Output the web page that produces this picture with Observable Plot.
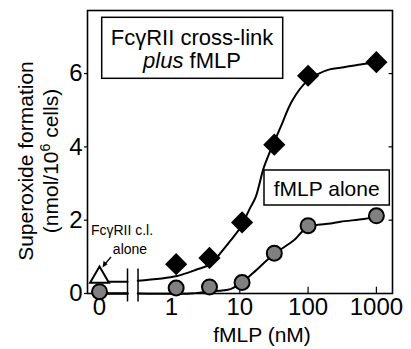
<!DOCTYPE html>
<html>
<head>
<meta charset="utf-8">
<script src="https://cdn.jsdelivr.net/npm/d3@7"></script>
<script src="https://cdn.jsdelivr.net/npm/@observablehq/plot@0.6"></script>
<style>
  body { margin: 0; background: #fff; }
  svg { font-family: "Liberation Sans", Arial, sans-serif; }
</style>
</head>
<body>
<script>
// ---- data (fMLP concentration in nM, superoxide in nmol/10^6 cells) ----
const plusX  = [1.17, 3.6, 10.8, 32, 100, 1000];
const plusY  = [0.80, 0.97, 1.94, 4.06, 5.94, 6.31];
const aloneX = [0, 1.17, 3.6, 10.8, 32, 100, 1000];
const aloneY = [0.05, 0.15, 0.18, 0.30, 1.10, 1.85, 2.12];
const clX = [0];
const clY = [0.44];
// fitted curves
const fitPlusX  = [0.32, 1.21, 2.38, 3.72, 5.2, 7.3, 10.2, 14.3, 17, 22.5, 28, 39.4, 58.5, 97, 136, 213, 298, 585, 1000];
const fitPlusY  = [0.35, 0.48, 0.66, 0.80, 1.10, 1.44, 1.80, 2.35, 2.62, 3.44, 3.89, 4.53, 5.26, 5.80, 5.98, 6.12, 6.16, 6.25, 6.31];
const fitAloneX = [0.32, 1.9, 3.3, 7.3, 10.2, 15.9, 31.5, 62, 97, 213, 298, 654, 1000];
const fitAloneY = [0, 0, 0.05, 0.12, 0.27, 0.57, 1.07, 1.45, 1.80, 1.91, 1.96, 2.03, 2.09];
const plusStubY = 0.32;   // fit level at 0 nM (left of axis break)
const aloneStubY = 0;
const xTickValues = [0, 1, 10, 100, 1000];
const xTickLabels = ["0", "1", "10", "100", "1000"];
const yTickValues = [0, 2, 4, 6];

// ---- axis transform: log10 with a broken-off zero position ----
const ZERO_POS = -1.054, BREAK_L = -0.644, BREAK_R = -0.49;
const u = v => v === 0 ? ZERO_POS : Math.log10(v);
const pts = (xs, ys) => xs.map((x, i) => ({x: u(x), y: ys[i]}));

const plusPts = pts(plusX, plusY);
const alonePts = pts(aloneX, aloneY);
const clPts = pts(clX, clY);
const fitPlus = pts(fitPlusX, fitPlusY);
const fitAlone = pts(fitAloneX, fitAloneY);
const stubPlus = [{x: ZERO_POS, y: plusStubY}, {x: BREAK_L, y: plusStubY}];
const stubAlone = [{x: ZERO_POS, y: aloneStubY}, {x: BREAK_L, y: aloneStubY}];
const tickMap = new Map(xTickValues.map((v, i) => [u(v), xTickLabels[i]]));
const xMax = 3.236;

const chart = Plot.plot({
  width: 411,
  height: 349,
  marginLeft: 87,
  marginRight: 19,
  marginTop: 10,
  marginBottom: 56,
  style: {fontFamily: '"Liberation Sans", Arial, sans-serif', background: "white", color: "black"},
  x: {type: "linear", domain: [-1.23, xMax]},
  y: {domain: [0, 7.72]},
  marks: [
    Plot.axisY({ticks: yTickValues, tickSize: 3, tickPadding: 2, fontSize: 24, label: null, strokeWidth: 1.2}),
    Plot.axisX({ticks: [...tickMap.keys()], tickFormat: d => tickMap.get(d), tickSize: 0, tickPadding: 4, fontSize: 24, label: null}),
    Plot.ruleX(xTickValues.slice(1).map(u), {y1: 0, y2: 0.17, stroke: "black", strokeWidth: 1.2}),
    Plot.ruleY(yTickValues.slice(1), {x1: xMax - 0.05, x2: xMax, stroke: "black", strokeWidth: 1.2}),
    Plot.frame({stroke: "black", strokeWidth: 1.6}),
    // axis break
    Plot.rect([{x1: BREAK_L, x2: BREAK_R, y1: -0.08, y2: 0.08}], {x1: "x1", x2: "x2", y1: "y1", y2: "y2", fill: "white"}),
    Plot.ruleX([BREAK_L, BREAK_R], {y1: -0.23, y2: 0.67, stroke: "black", strokeWidth: 1.5}),
    // curves
    Plot.line(stubPlus, {x: "x", y: "y", stroke: "black", strokeWidth: 2}),
    Plot.line(stubAlone, {x: "x", y: "y", stroke: "black", strokeWidth: 2.5}),
    Plot.line(fitPlus, {x: "x", y: "y", curve: "catmull-rom", stroke: "black", strokeWidth: 2}),
    Plot.line(fitAlone, {x: "x", y: "y", curve: "catmull-rom", stroke: "black", strokeWidth: 2}),
    // points
    Plot.dot(alonePts, {x: "x", y: "y", r: 7.5, fill: "#808080", stroke: "black", strokeWidth: 2}),
    Plot.dot(plusPts, {x: "x", y: "y", symbol: "diamond2", r: 10, fill: "black", stroke: "none"}),
    Plot.dot(clPts, {x: "x", y: "y", symbol: "triangle", r: 7, fill: "white", stroke: "black", strokeWidth: 2})
  ]
});
document.body.appendChild(chart);

// ---- annotations ----
const svg = d3.select(chart);
const ff = '"Liberation Sans", Arial, sans-serif';

// y-axis title (two lines, rotated)
const yt = svg.append("g").attr("transform", "translate(33,161) rotate(-90)")
  .attr("font-family", ff).attr("font-size", 21).attr("text-anchor", "middle").attr("fill", "black");
yt.append("text").text("Superoxide formation");
const l2 = yt.append("text").attr("y", 25);
l2.append("tspan").text("(nmol/10");
l2.append("tspan").attr("dy", -8).attr("font-size", 14).text("6");
l2.append("tspan").attr("dy", 8).text(" cells)");

// x-axis title
svg.append("text").attr("x", 262).attr("y", 342).attr("text-anchor", "middle")
  .attr("font-family", ff).attr("font-size", 21).attr("fill", "black").text("fMLP (nM)");

// legend box 1
svg.append("rect").attr("x", 101.7).attr("y", 17.3).attr("width", 181).attr("height", 61)
  .attr("fill", "white").attr("stroke", "black").attr("stroke-width", 1.5);
svg.append("text").attr("x", 192).attr("y", 45).attr("text-anchor", "middle")
  .attr("font-family", ff).attr("font-size", 22).attr("fill", "black").text("FcγRII cross-link");
const t2 = svg.append("text").attr("x", 192).attr("y", 68).attr("text-anchor", "middle")
  .attr("font-family", ff).attr("font-size", 22).attr("fill", "black");
t2.append("tspan").attr("font-style", "italic").text("plus");
t2.append("tspan").text(" fMLP");

// legend box 2
svg.append("rect").attr("x", 264).attr("y", 170).attr("width", 125.3).attr("height", 35)
  .attr("fill", "white").attr("stroke", "black").attr("stroke-width", 1.5);
svg.append("text").attr("x", 326.7).attr("y", 196).attr("text-anchor", "middle")
  .attr("font-family", ff).attr("font-size", 21).attr("fill", "black").text("fMLP alone");

// FcγRII c.l. alone label + arrow
svg.append("text").attr("x", 122).attr("y", 235).attr("text-anchor", "middle")
  .attr("font-family", ff).attr("font-size", 14).attr("fill", "black").text("FcγRII c.l.");
svg.append("text").attr("x", 130).attr("y", 254).attr("text-anchor", "middle")
  .attr("font-family", ff).attr("font-size", 14).attr("fill", "black").text("alone");
svg.append("line").attr("x1", 111).attr("y1", 257).attr("x2", 105.5).attr("y2", 263.5)
  .attr("stroke", "black").attr("stroke-width", 1.2);
svg.append("path").attr("d", "M102.5,267.5 L103.6,260.8 L107.6,264.2 Z").attr("fill", "black");
</script>
</body>
</html>
